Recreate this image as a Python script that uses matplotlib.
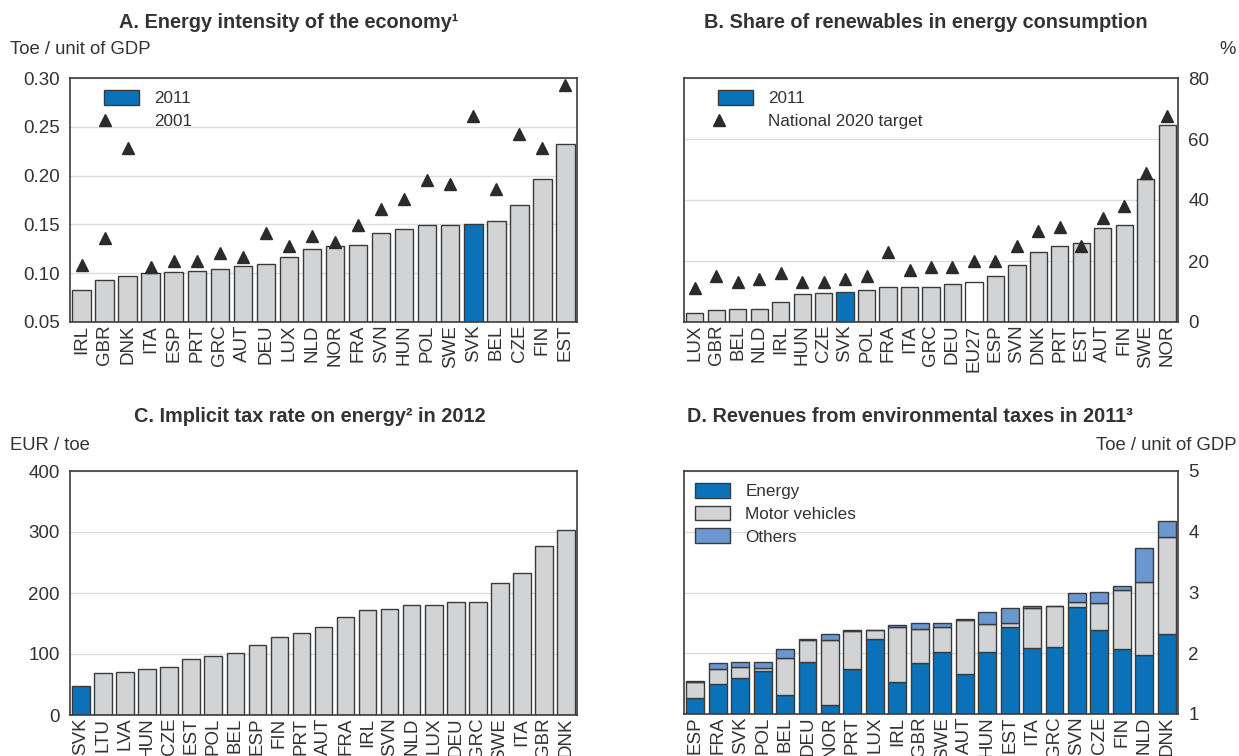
import numpy as np
import matplotlib
matplotlib.use('Agg')
import matplotlib.pyplot as plt
from matplotlib.patches import Patch
from matplotlib.lines import Line2D
from matplotlib.legend_handler import HandlerBase

plt.rcParams['font.family'] = ['Liberation Sans', 'DejaVu Sans']

# Panel A: energy intensity
a_countries = ['IRL', 'GBR', 'DNK', 'ITA', 'ESP', 'PRT', 'GRC', 'AUT', 'DEU', 'LUX', 'NLD',
               'NOR', 'FRA', 'SVN', 'HUN', 'POL', 'SWE', 'SVK', 'BEL', 'CZE', 'FIN', 'EST']
a_2011 = [0.083, 0.093, 0.097, 0.100, 0.101, 0.102, 0.104, 0.107, 0.109, 0.117, 0.125,
          0.128, 0.129, 0.141, 0.145, 0.149, 0.149, 0.150, 0.153, 0.170, 0.197, 0.232]
a_2001 = [0.108, 0.136, 0.228, 0.106, 0.113, 0.112, 0.121, 0.117, 0.141, 0.128, 0.138,
          0.132, 0.149, 0.166, 0.176, 0.195, 0.191, 0.261, 0.186, 0.243, 0.228, 0.293]

# Panel B: share of renewables
b_countries = ['LUX', 'GBR', 'BEL', 'NLD', 'IRL', 'HUN', 'CZE', 'SVK', 'POL', 'FRA', 'ITA', 'GRC',
               'DEU', 'EU27', 'ESP', 'SVN', 'DNK', 'PRT', 'EST', 'AUT', 'FIN', 'SWE', 'NOR']
b_2011 = [2.9, 3.8, 4.1, 4.3, 6.6, 9.1, 9.4, 9.7, 10.4, 11.5, 11.5, 11.6,
          12.3, 13.0, 15.1, 18.8, 23.1, 24.9, 25.9, 30.9, 31.8, 46.8, 64.7]
b_target = [11, 15, 13, 14, 16, 13, 13, 14, 15, 23, 17, 18,
            18, 20, 20, 25, 30, 31, 25, 34, 38, 49, 67.5]

# Panel C: implicit tax rate on energy
c_countries = ['SVK', 'LTU', 'LVA', 'HUN', 'CZE', 'EST', 'POL', 'BEL', 'ESP', 'FIN', 'PRT', 'AUT',
               'FRA', 'IRL', 'SVN', 'NLD', 'LUX', 'DEU', 'GRC', 'SWE', 'ITA', 'GBR', 'DNK']
c_values = [48, 69, 71, 75, 79, 92, 97, 102, 114, 128, 134, 145,
            161, 172, 173, 180, 181, 185, 186, 217, 233, 277, 304]

# Panel D: environmental tax revenues (stacked)
d_countries = ['ESP', 'FRA', 'SVK', 'POL', 'BEL', 'DEU', 'NOR', 'PRT', 'LUX', 'IRL', 'GBR',
               'SWE', 'AUT', 'HUN', 'EST', 'ITA', 'GRC', 'SVN', 'CZE', 'FIN', 'NLD', 'DNK']
d_energy = [1.27, 1.49, 1.59, 1.70, 1.32, 1.85, 1.15, 1.74, 2.23, 1.52, 1.84,
            2.02, 1.66, 2.02, 2.43, 2.08, 2.11, 2.76, 2.38, 2.07, 1.97, 2.32]
d_motor = [0.25, 0.25, 0.19, 0.05, 0.60, 0.36, 1.07, 0.62, 0.16, 0.91, 0.56,
           0.42, 0.88, 0.46, 0.06, 0.66, 0.66, 0.09, 0.44, 0.97, 1.21, 1.60]
d_others = [0.03, 0.10, 0.07, 0.10, 0.15, 0.02, 0.09, 0.02, 0.00, 0.04, 0.09,
            0.06, 0.02, 0.20, 0.25, 0.03, 0.00, 0.14, 0.18, 0.07, 0.55, 0.25]

BLUE = '#0b72b9'
GREY = '#d2d3d5'
LBLUE = '#6a97cf'
EDGE = '#3a3a3a'
TXT = '#333333'
GRID = '#dcdcdc'
TICK_FS = 13.5
LEG_FS = 12.3


class LeftMarker(HandlerBase):
    # triangle drawn at the left end of the legend handle, as in the original
    def create_artists(self, legend, orig_handle, xdescent, ydescent, width, height, fontsize, trans):
        m = Line2D([-xdescent + 1], [height / 2 - ydescent], marker='^', color='#2b2b2b',
                   markersize=9, linestyle='none', transform=trans)
        return [m]


fig = plt.figure(figsize=(12.39, 7.56), dpi=100)
W, H = 1239, 756


def make_ax(l, t, r, b):
    return fig.add_axes([l / W, 1 - b / H, (r - l) / W, (b - t) / H])


def style(ax, right=False):
    for s in ax.spines.values():
        s.set_color('#3c3c3c')
        s.set_linewidth(1.2)
    ax.set_axisbelow(True)
    ax.yaxis.grid(True, color=GRID, linewidth=1)
    ax.tick_params(axis='both', length=0, labelsize=TICK_FS, labelcolor=TXT)
    ax.tick_params(axis='x', pad=2, labelrotation=90)
    if right:
        ax.yaxis.tick_right()
    ax.tick_params(axis='y', pad=7.5)


def legend_kw(ax, dx, dy):
    w = ax.get_position().width * W
    h = ax.get_position().height * H
    return dict(loc='upper left', bbox_to_anchor=(dx / w, 1 - dy / h), borderaxespad=0, borderpad=0,
                frameon=False, fontsize=LEG_FS, handlelength=2.05, handleheight=0.95,
                handletextpad=0.9, labelspacing=0.38, labelcolor=TXT)


# ---- A ----
axA = make_ax(70, 78, 577, 322)
xa = np.arange(len(a_countries))
colA = [BLUE if c == 'SVK' else GREY for c in a_countries]
axA.bar(xa, a_2011, 0.8, color=colA, edgecolor=EDGE, linewidth=1)
axA.plot(xa, a_2001, '^', color='#2b2b2b', markersize=9, linestyle='none')
axA.set_xlim(-0.5, len(xa) - 0.5)
axA.set_ylim(0.05, 0.30)
axA.set_yticks(np.arange(0.05, 0.31, 0.05))
axA.set_yticklabels(['{:.2f}'.format(v) for v in np.arange(0.05, 0.31, 0.05)])
axA.set_xticks(xa)
axA.set_xticklabels(a_countries)
style(axA)
axA.legend([Patch(facecolor=BLUE, edgecolor=EDGE), Line2D([], [])], ['2011', '2001'],
           handler_map={Line2D: LeftMarker()}, **legend_kw(axA, 34, 12))

# ---- B ----
axB = make_ax(684, 78, 1178, 322)
xb = np.arange(len(b_countries))
colB = ['white' if c == 'EU27' else (BLUE if c == 'SVK' else GREY) for c in b_countries]
axB.bar(xb, b_2011, 0.8, color=colB, edgecolor=EDGE, linewidth=1)
axB.plot(xb, b_target, '^', color='#2b2b2b', markersize=9, linestyle='none')
axB.set_xlim(-0.5, len(xb) - 0.5)
axB.set_ylim(0, 80)
axB.set_yticks([0, 20, 40, 60, 80])
axB.set_xticks(xb)
axB.set_xticklabels(b_countries)
style(axB, right=True)
axB.legend([Patch(facecolor=BLUE, edgecolor=EDGE), Line2D([], [])], ['2011', 'National 2020 target'],
           handler_map={Line2D: LeftMarker()}, **legend_kw(axB, 34, 12))

# ---- C ----
axC = make_ax(70, 471, 577, 715)
xc = np.arange(len(c_countries))
colC = [BLUE if c == 'SVK' else GREY for c in c_countries]
axC.bar(xc, c_values, 0.8, color=colC, edgecolor=EDGE, linewidth=1)
axC.set_xlim(-0.5, len(xc) - 0.5)
axC.set_ylim(0, 400)
axC.set_yticks([0, 100, 200, 300, 400])
axC.set_xticks(xc)
axC.set_xticklabels(c_countries)
style(axC)

# ---- D ----
axD = make_ax(684, 471, 1178, 714)
xd = np.arange(len(d_countries))
e = np.array(d_energy)
m = np.array(d_motor)
o = np.array(d_others)
axD.bar(xd, e, 0.8, color=BLUE, edgecolor=EDGE, linewidth=1, label='Energy')
axD.bar(xd, m, 0.8, bottom=e, color=GREY, edgecolor=EDGE, linewidth=1, label='Motor vehicles')
axD.bar(xd, o, 0.8, bottom=e + m, color=LBLUE, edgecolor=EDGE, linewidth=1, label='Others')
axD.set_xlim(-0.5, len(xd) - 0.5)
axD.set_ylim(1, 5)
axD.set_yticks([1, 2, 3, 4, 5])
axD.set_xticks(xd)
axD.set_xticklabels(d_countries)
style(axD, right=True)
axD.legend(**legend_kw(axD, 11, 12))

# titles and units
tkw = dict(fontsize=14.3, fontweight='bold', color=TXT, ha='center', va='center')
fig.text(289 / W, 1 - 22 / H, 'A. Energy intensity of the economy¹', **tkw)
fig.text(926 / W, 1 - 22 / H, 'B. Share of renewables in energy consumption', **tkw)
fig.text(310 / W, 1 - 416 / H, 'C. Implicit tax rate on energy² in 2012', **tkw)
fig.text(910 / W, 1 - 416 / H, 'D. Revenues from environmental taxes in 2011³', **tkw)
ukw = dict(fontsize=13.3, color=TXT, va='center')
fig.text(10 / W, 1 - 50 / H, 'Toe / unit of GDP', ha='left', **ukw)
fig.text(1236 / W, 1 - 50 / H, '%', ha='right', **ukw)
fig.text(10 / W, 1 - 445 / H, 'EUR / toe', ha='left', **ukw)
fig.text(1236 / W, 1 - 445 / H, 'Toe / unit of GDP', ha='right', **ukw)

fig.savefig('out.png', dpi=100, facecolor='white')
